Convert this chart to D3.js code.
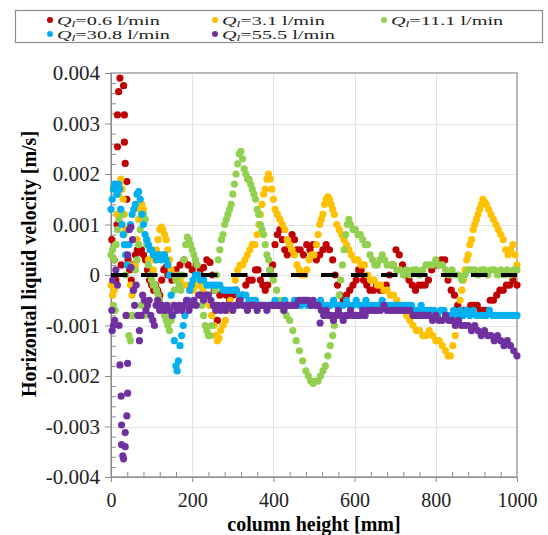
<!DOCTYPE html>
<html>
<head>
<meta charset="utf-8">
<script src="https://cdn.jsdelivr.net/npm/d3@7"></script>
<style>
  html, body { margin: 0; padding: 0; background: #fff; }
  #chart { width: 548px; height: 535px; }
  svg text { font-family: 'Liberation Serif', 'Times New Roman', serif; }
</style>
</head>
<body>
<div id="chart"></div>
<script>
// [column height mm, horizontal liquid velocity m/s]
const q06 = [[2,0.0007],[8,0.0003],[12,-0.0001],[15,0.001],[16,0.00317],[16,0.00254],[19,0.00363],[22,0.0039],[25,0.0002],[31,0.00375],[33,0.00317],[33,0.00263],[35,0.00221],[39,0.00185],[39,0.0015],[42,0.0003],[46,0.0001],[50,-0.0001],[55,0.0002],[60,0.0004],[65,0.0005],[70,0.00045],[75,0.0005],[80,0.0004],[85,0.0003],[90,0.0001],[95,-0.0001],[100,-0.0002],[105,-0.0003],[110,-0.0002],[115,-0.0003],[120,-0.0004],[125,-0.0001],[130,0.0001],[135,0.00015],[140,0.0],[145,0.0001],[150,-0.0001],[155,0.0],[160,0.0001],[170,0.0002],[180,0.0003],[190,0.0002],[200,0.0001],[210,0.0002],[220,0.0001],[228,0.00015],[236,0.0003],[244,0.00025],[250,0.0],[254,-0.0003],[258,-0.0006],[262,-0.0009],[268,-0.0004],[276,-0.0003],[284,-0.0004],[292,-0.0005],[300,-0.0004],[308,-0.0003],[316,-0.0005],[324,-0.0004],[332,-0.0002],[340,-0.0001],[348,-0.0001],[356,0.0001],[362,0.0001],[368,-0.0001],[374,-0.0002],[380,-0.0003],[386,-0.0002],[392,0.0001],[398,0.0002],[404,0.0006],[410,0.0008],[416,0.0009],[422,0.0007],[428,0.0005],[434,0.0004],[440,0.0006],[446,0.0008],[452,0.0007],[458,0.0005],[466,0.0005],[474,0.0004],[482,0.0006],[490,0.0005],[498,0.0006],[506,0.0003],[514,0.0004],[522,0.0005],[530,0.0006],[538,0.0005],[546,0.0003],[552,0.0],[558,-0.0002],[564,-0.0004],[572,-0.0005],[580,-0.0004],[588,-0.0003],[596,-0.0002],[604,-0.0001],[610,0.0001],[616,0.0001],[622,-0.0001],[630,-0.0002],[638,-0.0003],[646,-0.0003],[654,-0.0002],[662,-0.0003],[670,-0.0003],[678,-0.0002],[686,0.0],[694,0.0002],[702,0.0005],[710,0.0004],[718,0.0002],[726,0.0],[734,-0.0001],[742,-0.0002],[750,-0.0003],[758,-0.0002],[766,-0.0002],[774,-0.0002],[782,-0.0001],[790,0.0001],[798,0.0002],[806,0.0002],[814,0.0003],[822,0.0003],[830,-0.0001],[838,-0.0003],[846,-0.0004],[854,-0.0006],[862,-0.0007],[870,-0.0007],[878,-0.0007],[886,-0.0006],[894,-0.0006],[902,-0.0006],[910,-0.0007],[918,-0.0007],[926,-0.0007],[934,-0.0005],[942,-0.0005],[950,-0.0004],[958,-0.0003],[966,-0.0003],[974,-0.0002],[982,-0.0002],[990,-0.0001],[1000,-0.0002]];

const q31 = [[0,-0.0002],[4,-0.0004],[8,-0.0003],[12,0.0006],[15,0.0012],[18,0.0016],[21,0.0018],[24,0.0019],[27,0.0017],[30,0.0015],[33,0.0012],[36,0.0009],[40,0.0006],[44,0.0002],[48,-0.0002],[52,-0.0004],[56,-0.0003],[60,0.0002],[64,0.0007],[68,0.0011],[72,0.0013],[76,0.0014],[80,0.0013],[84,0.0011],[88,0.0007],[92,0.0003],[96,0.0],[100,-0.0001],[104,0.0001],[108,0.0003],[112,0.0005],[116,0.0007],[120,0.0009],[124,0.00095],[128,0.0009],[132,0.0008],[136,0.0007],[140,0.0005],[144,0.0003],[148,0.0001],[152,0.0],[156,0.0],[162,-0.0001],[170,-0.0001],[178,-0.0002],[186,-0.0002],[194,-0.0003],[202,-0.0003],[210,-0.0002],[218,-0.0002],[226,-0.0003],[234,-0.0004],[242,-0.0006],[248,-0.0008],[254,-0.001],[258,-0.0012],[262,-0.0013],[266,-0.00125],[270,-0.0011],[276,-0.001],[282,-0.0009],[288,-0.0007],[294,-0.0005],[300,-0.0003],[306,-0.0001],[312,0.0001],[318,0.0002],[324,0.0002],[330,0.0003],[336,0.0004],[342,0.0005],[348,0.0006],[354,0.0006],[360,0.0008],[364,0.001],[368,0.0012],[372,0.0014],[376,0.0016],[380,0.0017],[384,0.0019],[388,0.002],[392,0.0019],[396,0.0017],[400,0.0015],[404,0.0013],[410,0.0012],[416,0.0011],[422,0.001],[428,0.0009],[434,0.0007],[440,0.0006],[446,0.0005],[452,0.0004],[458,0.0002],[464,0.0001],[470,0.0],[476,0.0],[482,0.0001],[488,0.0003],[494,0.0004],[500,0.0004],[506,0.0006],[510,0.0008],[514,0.001],[518,0.0011],[522,0.0012],[526,0.0014],[530,0.0015],[534,0.00155],[538,0.0015],[542,0.0014],[546,0.0013],[550,0.0012],[556,0.001],[562,0.0009],[568,0.0008],[574,0.0007],[580,0.0006],[586,0.0005],[592,0.0004],[600,0.0003],[608,0.0003],[616,0.0002],[624,0.0002],[632,0.0],[640,-0.0001],[648,-0.0001],[656,-0.0002],[664,-0.0002],[672,-0.0003],[680,-0.0003],[688,-0.0004],[696,-0.0004],[704,-0.0005],[712,-0.0006],[720,-0.0007],[728,-0.0008],[736,-0.0009],[744,-0.001],[752,-0.0011],[760,-0.0011],[768,-0.0012],[776,-0.0012],[784,-0.0011],[792,-0.0012],[800,-0.0013],[808,-0.0013],[816,-0.0014],[824,-0.0015],[830,-0.0016],[836,-0.0016],[842,-0.0014],[848,-0.0012],[852,-0.001],[856,-0.0008],[860,-0.0005],[864,-0.0003],[868,-0.0001],[872,0.0001],[876,0.0003],[880,0.0004],[884,0.0006],[888,0.0007],[892,0.0009],[896,0.001],[900,0.0011],[904,0.0012],[908,0.0013],[912,0.0014],[916,0.0015],[920,0.00145],[924,0.0014],[930,0.0013],[936,0.0012],[942,0.0011],[948,0.001],[954,0.0009],[960,0.0008],[966,0.0007],[972,0.0005],[978,0.0004],[984,0.0005],[990,0.0006],[995,0.0004],[1000,0.0002]];

const q111 = [[0,0.0004],[4,0.0005],[6,-0.0006],[8,0.0003],[10,-0.0007],[12,0.0006],[16,0.0009],[20,0.0011],[24,0.0013],[28,0.0012],[32,0.0008],[36,0.0],[40,-0.0008],[44,-0.0012],[48,-0.0013],[52,-0.0008],[56,-0.0003],[60,0.0001],[64,0.0003],[68,0.0006],[72,0.0009],[74,-0.0006],[76,0.0012],[80,0.0012],[82,-0.0008],[84,0.0011],[88,0.0006],[92,0.0002],[96,0.0],[100,-0.0001],[104,-0.0002],[108,-0.0002],[112,-0.0003],[116,-0.0004],[120,-0.0005],[124,-0.0006],[128,-0.0007],[132,-0.0008],[136,-0.0009],[140,-0.001],[144,-0.0011],[148,-0.0009],[152,-0.0006],[156,-0.0003],[160,-0.0001],[164,0.0],[168,-0.0002],[172,-0.0003],[176,0.0],[180,0.0003],[184,0.0006],[188,0.00075],[192,0.0007],[196,0.0006],[200,0.0005],[204,0.0004],[208,0.0003],[212,0.0002],[216,0.0],[220,-0.0004],[224,-0.0006],[228,-0.0008],[232,-0.001],[236,-0.0011],[240,-0.0012],[244,-0.0012],[248,-0.001],[252,-0.0006],[256,-0.0003],[260,0.0],[264,0.0003],[268,0.0005],[272,0.0007],[276,0.0008],[280,0.001],[284,0.0011],[288,0.0012],[292,0.0013],[296,0.0014],[300,0.0016],[304,0.0018],[308,0.002],[312,0.0022],[316,0.0024],[320,0.00245],[324,0.0023],[328,0.0021],[332,0.002],[336,0.0019],[340,0.0019],[344,0.0018],[348,0.0017],[352,0.0016],[356,0.0015],[360,0.0013],[364,0.0012],[368,0.001],[372,0.0009],[376,0.0008],[380,0.0006],[384,0.0004],[388,0.0003],[392,0.0001],[396,0.0],[400,-0.0001],[408,-0.0003],[416,-0.0005],[424,-0.0007],[432,-0.0008],[440,-0.0009],[448,-0.0011],[456,-0.0013],[464,-0.0015],[472,-0.0017],[480,-0.0019],[486,-0.002],[492,-0.0021],[498,-0.00215],[504,-0.0021],[510,-0.0021],[516,-0.002],[522,-0.0019],[528,-0.0018],[534,-0.0016],[540,-0.0014],[546,-0.0012],[550,-0.001],[554,-0.0008],[558,-0.0006],[562,-0.0004],[566,-0.0001],[570,0.0002],[574,0.0005],[578,0.0008],[582,0.001],[586,0.0011],[590,0.001],[596,0.0009],[602,0.0009],[608,0.0008],[614,0.0008],[620,0.0007],[626,0.0006],[632,0.0006],[638,0.0004],[644,0.0003],[650,0.0002],[656,0.0002],[662,0.0003],[668,0.0004],[674,0.0003],[680,0.0002],[688,0.0002],[696,0.0002],[704,0.0001],[712,0.0001],[720,0.0],[728,0.0001],[736,0.0],[744,0.0001],[752,0.0001],[760,0.0],[768,0.0001],[776,0.0002],[784,0.0002],[792,0.0002],[800,0.0003],[808,0.0002],[816,0.0002],[824,0.0001],[832,0.0],[840,0.0001],[848,0.0],[856,0.0],[864,-0.0001],[872,0.0],[880,0.0001],[888,0.0001],[896,0.0001],[904,0.0],[912,0.0001],[920,0.0001],[928,0.0],[936,0.0001],[944,0.0001],[952,0.0],[960,0.0001],[968,0.0],[976,0.0001],[984,0.0],[992,0.0001],[1000,0.0001]];

const q308 = [[0,0.0013],[3,0.0015],[6,0.0017],[9,0.0018],[12,0.0017],[15,0.0016],[18,0.0018],[21,0.0017],[24,0.0013],[27,0.001],[30,0.0008],[33,0.0006],[36,0.0004],[40,0.0002],[44,0.0006],[48,0.001],[52,0.0012],[56,0.0013],[60,0.0014],[64,0.0016],[68,0.00165],[72,0.0015],[76,0.0012],[80,0.001],[84,0.0008],[88,0.0007],[92,0.0006],[96,0.0005],[100,0.0005],[104,0.0004],[108,0.0004],[112,0.0003],[116,0.0004],[120,0.0004],[124,0.0003],[128,0.0004],[132,0.0004],[136,0.0003],[140,0.0002],[144,0.0],[148,-0.0004],[152,-0.0008],[156,-0.0013],[160,-0.0018],[163,-0.0019],[166,-0.0017],[170,-0.0014],[174,-0.0012],[178,-0.001],[182,-0.0008],[186,-0.0006],[190,-0.0005],[194,-0.0003],[198,-0.0002],[202,-0.0001],[208,0.0],[214,0.0],[220,-0.0001],[228,-0.0001],[236,-0.0002],[244,-0.0002],[252,-0.0002],[260,-0.0002],[268,-0.0002],[276,-0.0003],[284,-0.0003],[292,-0.0003],[300,-0.0003],[308,-0.0003],[316,-0.0004],[324,-0.0004],[332,-0.0004],[340,-0.0005],[348,-0.0005],[356,-0.0005],[364,-0.0006],[372,-0.0006],[380,-0.0006],[388,-0.0006],[396,-0.0006],[404,-0.0005],[412,-0.0006],[420,-0.0006],[428,-0.0005],[436,-0.0006],[444,-0.0006],[452,-0.0005],[460,-0.0006],[468,-0.0006],[476,-0.0005],[484,-0.0006],[492,-0.0006],[500,-0.0006],[508,-0.0006],[516,-0.0005],[524,-0.0006],[532,-0.0006],[540,-0.0006],[548,-0.0005],[556,-0.0006],[564,-0.0006],[572,-0.0006],[580,-0.0005],[588,-0.0006],[596,-0.0006],[604,-0.0005],[612,-0.0006],[620,-0.0006],[628,-0.0005],[636,-0.0006],[644,-0.0006],[652,-0.0006],[660,-0.0006],[668,-0.0005],[676,-0.0006],[684,-0.0006],[692,-0.0006],[700,-0.0006],[708,-0.0006],[716,-0.0006],[724,-0.0006],[732,-0.0006],[740,-0.0006],[748,-0.0007],[756,-0.0007],[764,-0.0006],[772,-0.0007],[780,-0.0007],[788,-0.0007],[796,-0.0007],[804,-0.0008],[812,-0.0007],[820,-0.0007],[828,-0.0008],[836,-0.0008],[844,-0.0007],[852,-0.0008],[860,-0.0007],[868,-0.0008],[876,-0.0007],[884,-0.0008],[892,-0.0007],[900,-0.0008],[908,-0.0008],[916,-0.0008],[924,-0.0008],[932,-0.0007],[940,-0.0008],[948,-0.0008],[956,-0.0008],[964,-0.0008],[972,-0.0008],[980,-0.0008],[988,-0.0008],[996,-0.0008],[1000,-0.0008]];

const q555 = [[2,-0.0007],[3,-0.0011],[4,-0.0001],[6,-0.001],[9,-0.0009],[12,0.0001],[16,-0.0002],[20,-0.001],[22,-0.00178],[25,-0.0024],[26,-0.00297],[26,-0.00336],[29,-0.00358],[31,-0.00364],[35,-0.00312],[35,-0.0034],[39,-0.00279],[41,-0.00234],[41,-0.00175],[37,-0.0008],[41,0.0004],[45,0.0009],[49,0.00095],[53,0.0007],[49,0.00015],[55,-0.0003],[58,-0.0006],[62,-0.0002],[66,-0.0008],[70,-0.0011],[70,-0.0013],[74,-0.0008],[78,-0.0004],[82,-0.0005],[86,-0.0007],[90,-0.0006],[94,-0.0005],[98,-0.0008],[103,-0.0009],[107,-0.001],[111,-0.0006],[115,-0.0005],[120,-0.0007],[126,-0.0006],[132,-0.0007],[138,-0.0006],[144,-0.0007],[150,-0.0008],[156,-0.0006],[162,-0.0007],[168,-0.0006],[174,-0.0007],[180,-0.0006],[186,-0.0005],[192,-0.0007],[198,-0.0006],[204,-0.0005],[210,-0.0006],[216,-0.0004],[222,-0.0004],[228,-0.0005],[234,-0.0004],[240,-0.0004],[246,-0.0005],[252,-0.0006],[258,-0.0007],[264,-0.0006],[270,-0.0007],[276,-0.0006],[282,-0.0007],[288,-0.0006],[294,-0.0006],[300,-0.0007],[306,-0.0006],[312,-0.0006],[318,-0.0005],[324,-0.0006],[330,-0.0006],[336,-0.0007],[342,-0.0006],[348,-0.0006],[354,-0.0006],[360,-0.0007],[366,-0.0006],[372,-0.0006],[378,-0.0006],[384,-0.0007],[390,-0.0006],[396,-0.0006],[402,-0.0006],[408,-0.0006],[414,-0.0006],[420,-0.0006],[426,-0.0007],[432,-0.0006],[438,-0.0006],[444,-0.0006],[450,-0.0006],[456,-0.0006],[462,-0.0005],[468,-0.0005],[474,-0.0005],[480,-0.0005],[486,-0.0005],[492,-0.0006],[498,-0.0005],[504,-0.0006],[510,-0.0006],[515,-0.00095],[518,-0.0007],[524,-0.0008],[530,-0.0007],[536,-0.0008],[542,-0.0008],[548,-0.0009],[554,-0.0008],[560,-0.0007],[566,-0.0008],[572,-0.0009],[578,-0.0008],[584,-0.0008],[590,-0.0007],[596,-0.0008],[602,-0.0008],[608,-0.0008],[614,-0.0008],[620,-0.0007],[626,-0.0008],[632,-0.0007],[640,-0.0007],[648,-0.0007],[656,-0.0007],[664,-0.0007],[672,-0.0006],[680,-0.0007],[688,-0.0007],[696,-0.0007],[704,-0.0007],[712,-0.0007],[720,-0.0007],[728,-0.0007],[736,-0.0007],[744,-0.0008],[752,-0.0008],[760,-0.0008],[768,-0.0008],[776,-0.0008],[784,-0.0008],[792,-0.0009],[800,-0.0008],[808,-0.0009],[816,-0.0009],[824,-0.0008],[832,-0.0009],[840,-0.0009],[848,-0.001],[856,-0.0009],[864,-0.001],[872,-0.001],[880,-0.001],[888,-0.0011],[896,-0.001],[904,-0.0011],[912,-0.0012],[920,-0.0011],[928,-0.0012],[936,-0.0012],[944,-0.0013],[952,-0.0012],[960,-0.0013],[968,-0.0014],[976,-0.0013],[984,-0.0014],[992,-0.0015],[1000,-0.0016]];

const seriesNames = ["0.6", "3.1", "11.1", "30.8", "55.5"];
const seriesColors = ["#c00000", "#ffc000", "#92d050", "#00b0f0", "#7030a0"];
const seriesData = [q06, q31, q111, q308, q555];

const xTicks = [0, 200, 400, 600, 800, 1000];
const yTicks = [-0.004, -0.003, -0.002, -0.001, 0, 0.001, 0.002, 0.003, 0.004];
const yTickLabels = ["-0.004", "-0.003", "-0.002", "-0.001", "0", "0.001", "0.002", "0.003", "0.004"];

function renderChart(container) {
    const width = 548, height = 535;
    const margins = { top: 73, right: 31, bottom: 58, left: 111 };
    const axisGrey = "#8c8c8c";

    const svg = d3.create("svg")
        .attr("width", width)
        .attr("height", height);

    svg.append("rect").attr("width", width).attr("height", height).attr("fill", "#fff");

    const x = d3.scaleLinear().domain([0, 1000]).range([margins.left, width - margins.right]);
    const y = d3.scaleLinear().domain([-0.004, 0.004]).range([height - margins.bottom, margins.top]);

    // grid
    const grid = svg.append("g").attr("stroke", "#e3e3e3").attr("stroke-width", 1);
    grid.selectAll("line.h")
        .data(yTicks.filter(v => v > -0.004 && v < 0.004))
        .join("line")
        .attr("x1", x(0)).attr("x2", x(1000))
        .attr("y1", d => Math.round(y(d)) + 0.5).attr("y2", d => Math.round(y(d)) + 0.5);
    grid.selectAll("line.v")
        .data(xTicks.filter(v => v > 0 && v < 1000))
        .join("line")
        .attr("y1", y(-0.004)).attr("y2", y(0.004))
        .attr("x1", d => Math.round(x(d)) + 0.5).attr("x2", d => Math.round(x(d)) + 0.5);

    // frame
    svg.append("rect")
        .attr("x", x(0)).attr("y", y(0.004))
        .attr("width", x(1000) - x(0)).attr("height", y(-0.004) - y(0.004))
        .attr("fill", "none").attr("stroke", axisGrey).attr("stroke-width", 1.2);

    // x axis: major ticks outside, minor ticks inside
    const xAxis = svg.append("g")
        .attr("transform", `translate(0,${y(-0.004)})`)
        .call(d3.axisBottom(x).tickValues(xTicks).tickFormat(d3.format("d")).tickSize(5).tickSizeOuter(0).tickPadding(11))
        .call(g => g.select(".domain").attr("stroke", axisGrey));
    xAxis.selectAll(".tick line").attr("stroke", axisGrey);
    xAxis.selectAll("text").attr("font-size", 20).attr("fill", "#222");
    svg.append("g")
        .attr("transform", `translate(0,${y(-0.004)})`)
        .call(d3.axisTop(x).tickValues(d3.range(40, 1000, 40).filter(v => v % 200 !== 0)).tickSize(5).tickFormat(""))
        .call(g => g.select(".domain").remove())
        .selectAll(".tick line").attr("stroke", axisGrey);

    // y axis
    const yAxis = svg.append("g")
        .attr("transform", `translate(${x(0)},0)`)
        .call(d3.axisLeft(y).tickValues(yTicks).tickFormat((d, i) => yTickLabels[i]).tickSize(6).tickSizeOuter(0).tickPadding(5))
        .call(g => g.select(".domain").attr("stroke", axisGrey));
    yAxis.selectAll(".tick line").attr("stroke", axisGrey);
    yAxis.selectAll("text").attr("font-size", 21).attr("fill", "#222");
    svg.append("g")
        .attr("transform", `translate(${x(0)},0)`)
        .call(d3.axisRight(y).tickValues(d3.range(-19, 20).filter(v => v % 5 !== 0).map(v => v * 0.0002)).tickSize(5).tickFormat(""))
        .call(g => g.select(".domain").remove())
        .selectAll(".tick line").attr("stroke", axisGrey);

    // points
    seriesData.forEach((pts, i) => {
        svg.append("g")
            .attr("fill", seriesColors[i])
            .selectAll("circle")
            .data(pts)
            .join("circle")
            .attr("cx", d => x(d[0]))
            .attr("cy", d => y(d[1]))
            .attr("r", 3.6);
    });

    // zero reference line
    svg.append("line")
        .attr("x1", x(0)).attr("x2", x(1000))
        .attr("y1", y(0)).attr("y2", y(0))
        .attr("stroke", "#000").attr("stroke-width", 4)
        .attr("stroke-dasharray", "16.5,13.5");

    // axis titles
    svg.append("text")
        .attr("x", (x(0) + x(1000)) / 2)
        .attr("y", 531)
        .attr("text-anchor", "middle")
        .attr("font-size", 20)
        .attr("font-weight", "bold")
        .text("column height [mm]");
    svg.append("text")
        .attr("transform", "translate(36,264) rotate(-90)")
        .attr("text-anchor", "middle")
        .attr("font-size", 20)
        .attr("font-weight", "bold")
        .text("Horizontal liquid velocity [m/s]");

    // legend
    svg.append("rect")
        .attr("x", 15.5).attr("y", 10.5).attr("width", 527).attr("height", 32)
        .attr("fill", "#fff").attr("stroke", axisGrey).attr("stroke-width", 1.2);

    const legendPos = [[50, 0], [215, 0], [384, 0], [50, 1], [215, 1]];
    const item = svg.append("g").selectAll("g")
        .data(seriesNames)
        .join("g")
        .attr("transform", (d, i) => `translate(${legendPos[i][0]},${20 + legendPos[i][1] * 14})`);
    item.append("circle").attr("r", 3).attr("fill", (d, i) => seriesColors[i]);
    const label = item.append("text")
        .attr("transform", "translate(7,4.5) scale(1.5,1)")
        .attr("font-size", 13.5)
        .attr("fill", "#222");
    label.append("tspan").attr("font-style", "italic").text("Q");
    label.append("tspan").attr("font-style", "italic").attr("font-size", 9).attr("dy", 2.5).text("l");
    label.append("tspan").attr("dy", -2.5).text(d => `=${d} l/min`);

    container.appendChild(svg.node());
}

renderChart(document.getElementById("chart"));
</script>
</body>
</html>
